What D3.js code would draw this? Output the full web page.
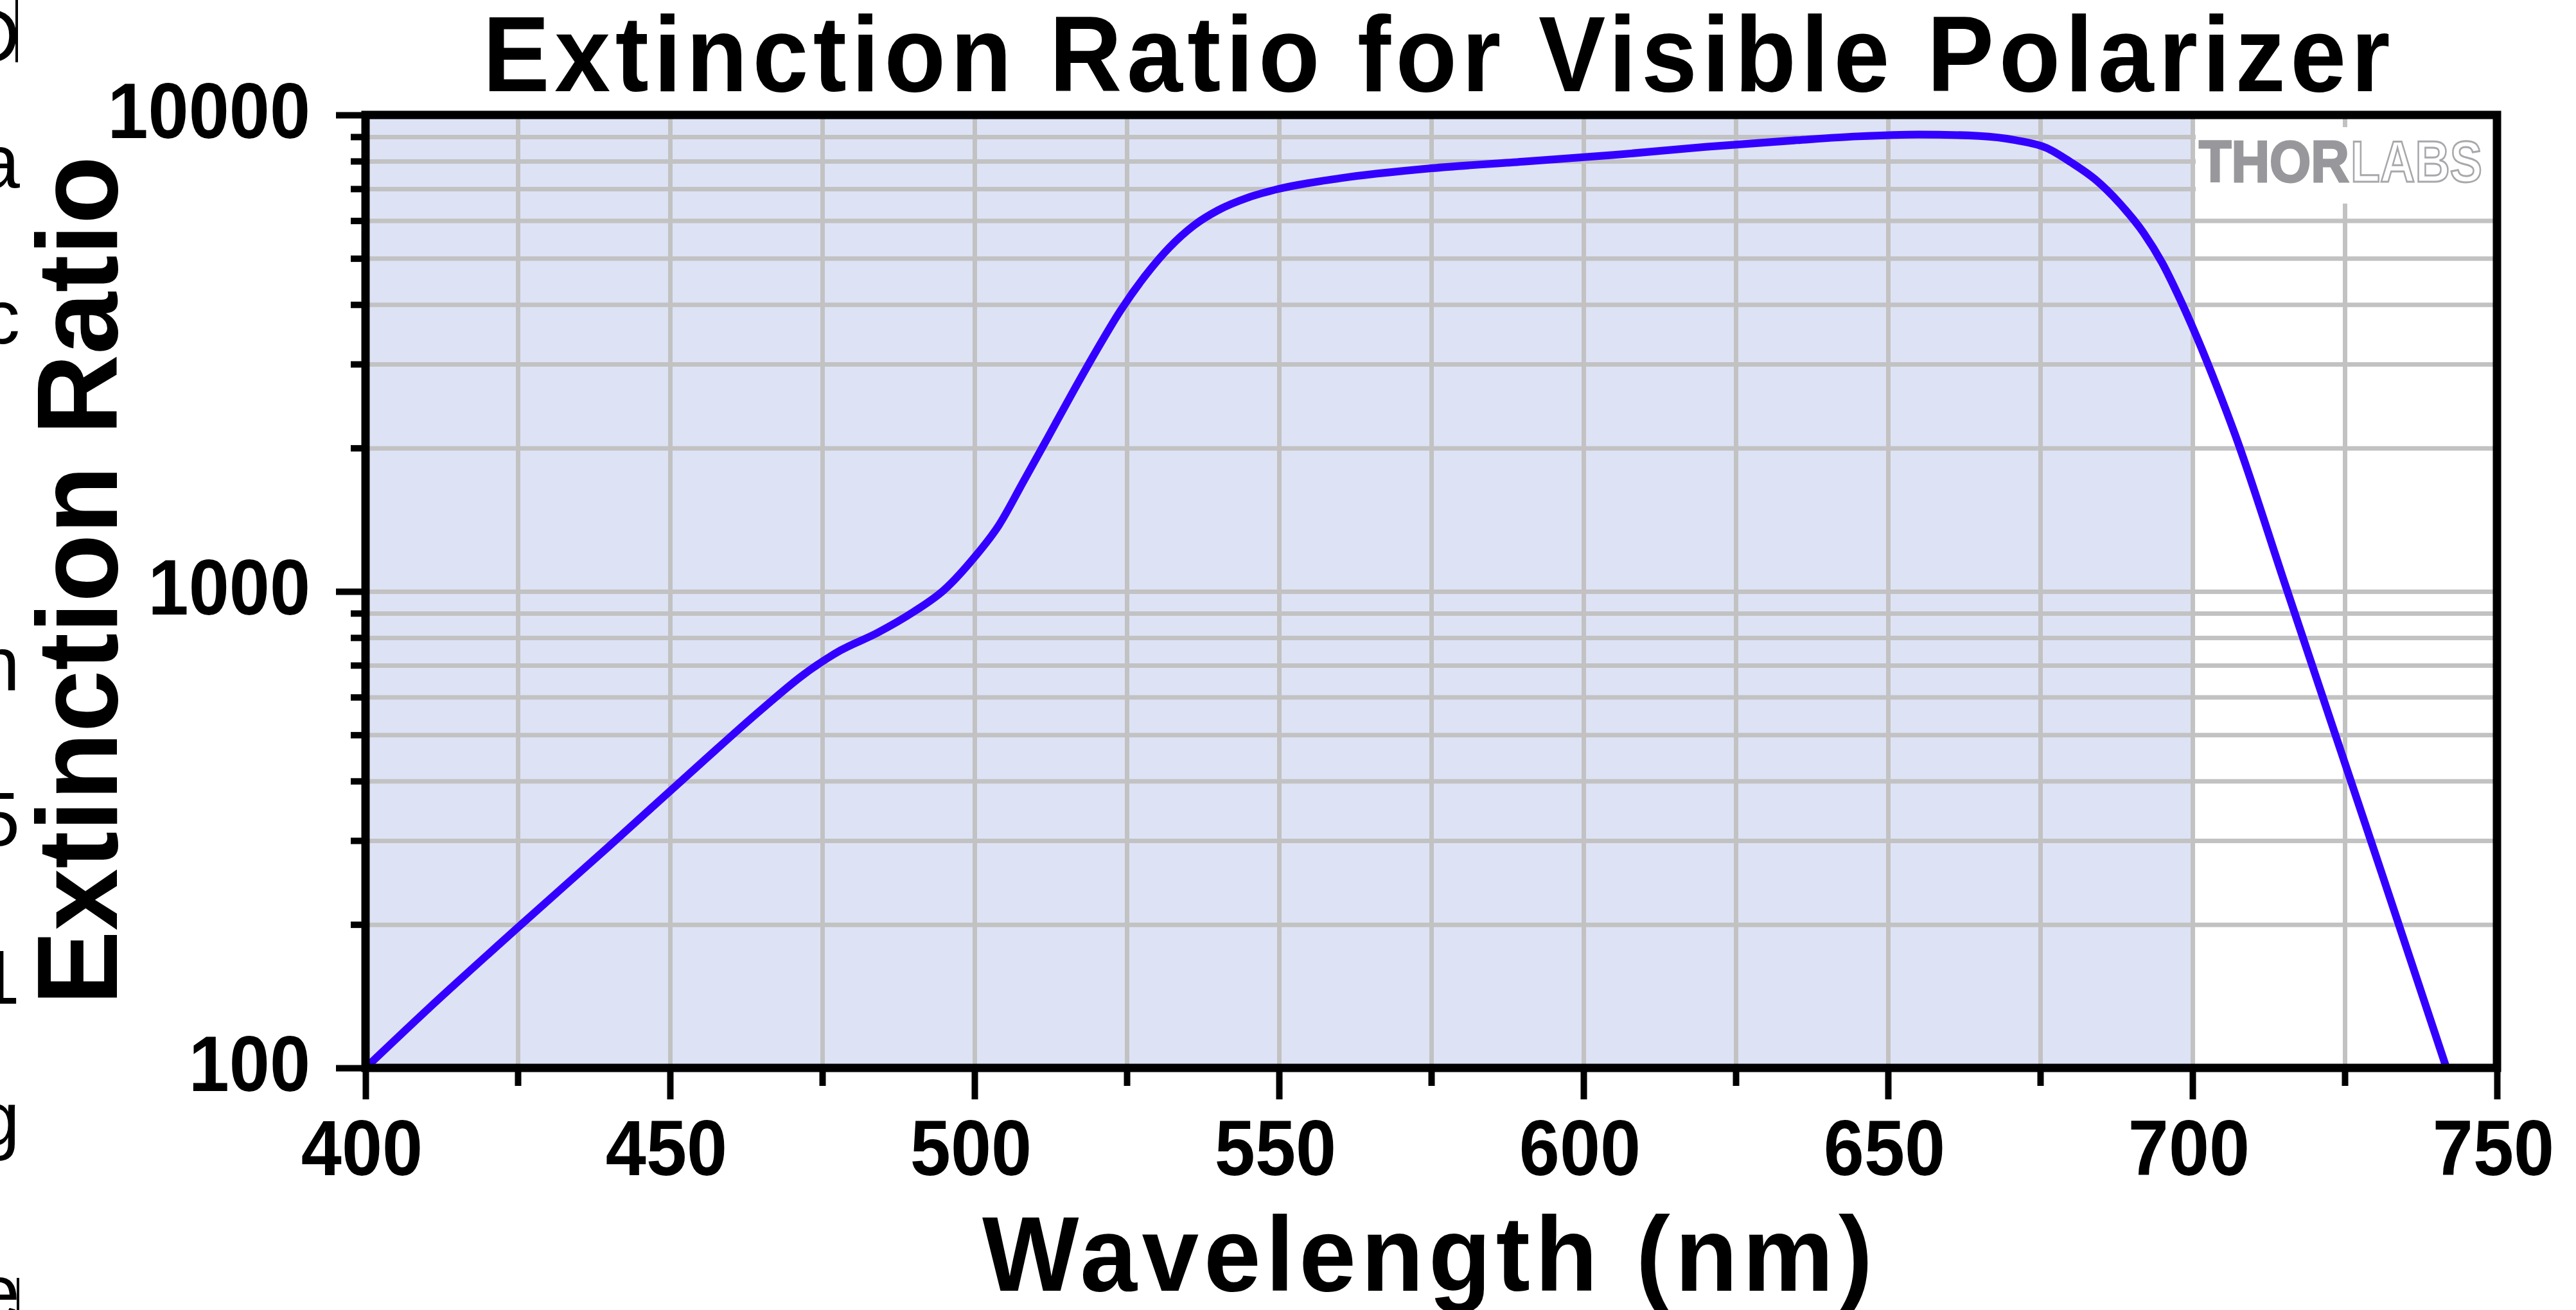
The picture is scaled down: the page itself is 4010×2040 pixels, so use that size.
<!DOCTYPE html>
<html>
<head>
<meta charset="utf-8">
<script src="https://cdn.jsdelivr.net/npm/d3@7"></script>
<style>
  html, body { margin: 0; padding: 0; background: #ffffff; }
  svg { display: block; }
  text { font-family: "Liberation Sans", Arial, Helvetica, sans-serif; }
</style>
</head>
<body>
<svg id="chart" width="4010" height="2040"></svg>
<script>
// ---- data: measured extinction ratio of the visible polarizer ----
const wavelengths = [400, 410, 425, 440, 455, 465, 472, 478, 484, 490,
  495, 500, 504, 508, 512, 516, 520, 524, 528, 532,
  536, 540, 545, 550, 560, 575, 590, 605, 620, 635,
  645, 655, 665, 671, 676, 680, 684, 688, 692, 695,
  698, 701, 704, 707, 715, 723, 731, 741.7];
const extinction = [100, 132, 197, 292, 435, 565, 670, 752, 818, 906,
  1007, 1180, 1377, 1698, 2099, 2600, 3199, 3890, 4592, 5272,
  5861, 6310, 6714, 6998, 7362, 7727, 7980, 8241, 8570, 8851,
  9016, 9099, 9036, 8851, 8531, 7962, 7328, 6531, 5649, 4898,
  4093, 3350, 2692, 2133, 1054, 521, 258, 100];

// ---- axes ticks and labels ----
const xDomain = [400, 750];
const yDomain = [100, 10000];
const xMajorTicks = [400, 450, 500, 550, 600, 650, 700, 750];
const xMinorTicks = [425, 475, 525, 575, 625, 675, 725];
const yMajorTicks = [100, 1000, 10000];
const yMinorTicks = [200, 300, 400, 500, 600, 700, 800, 900,
  2000, 3000, 4000, 5000, 6000, 7000, 8000, 9000];
const shadedBand = [400, 700];   // design wavelength range

const titleText = "Extinction Ratio for Visible Polarizer";
const xTitleText = "Wavelength (nm)";
const yTitleText = "Extinction Ratio";
const logoParts = ["THOR", "LABS"];

// page text cut off at the left edge of the screenshot
const edgeFragments = [
  { t: "D", y: 97 }, { t: "a", y: 293 }, { t: "c", y: 535 },
  { t: "n", y: 1075 }, { t: "5", y: 1317 }, { t: "1", y: 1563 },
  { t: "g", y: 1783 }, { t: "e", y: 2053 }
];

// ---- layout ----
const plot = { left: 569, right: 3887, top: 179, bottom: 1663 };
const plotW = plot.right - plot.left;
const plotH = plot.bottom - plot.top;
const COLORS = {
  band: "#dde3f5", grid: "#c2c2c2", line: "#3300ff", axis: "#000000", logo: "#98989c"
};

const svg = d3.select("#chart");

const x = d3.scaleLinear().domain(xDomain).range([plot.left, plot.right]);
const y = d3.scaleLog().domain(yDomain).range([plot.bottom, plot.top]);

// shaded wavelength band
svg.append("rect")
  .attr("x", x(shadedBand[0]))
  .attr("y", plot.top)
  .attr("width", x(shadedBand[1]) - x(shadedBand[0]))
  .attr("height", plotH)
  .attr("fill", COLORS.band);

// grid lines
const gridX = xMajorTicks.concat(xMinorTicks).filter(v => v > xDomain[0] && v < xDomain[1]);
const gridY = yMinorTicks.concat([1000]);

const gx = svg.append("g")
  .attr("transform", `translate(0,${plot.bottom})`)
  .call(d3.axisBottom(x).tickValues(gridX).tickSize(-plotH).tickFormat(""));
gx.select(".domain").remove();
gx.selectAll(".tick line").attr("stroke", COLORS.grid).attr("stroke-width", 7);

const gy = svg.append("g")
  .attr("transform", `translate(${plot.left},0)`)
  .call(d3.axisLeft(y).tickValues(gridY).tickSize(-plotW).tickFormat(""));
gy.select(".domain").remove();
gy.selectAll(".tick line").attr("stroke", COLORS.grid).attr("stroke-width", 7);

// logo panel (white backing hides the grid behind it)
const logoX = x(shadedBand[1]) + 5;
svg.append("rect")
  .attr("x", logoX)
  .attr("y", 198)
  .attr("width", plot.right - 6 - logoX)
  .attr("height", 119)
  .attr("fill", "#ffffff");
svg.append("text")
  .attr("x", 3423)
  .attr("y", 283)
  .attr("font-size", 90)
  .attr("font-weight", 700)
  .attr("fill", COLORS.logo)
  .attr("stroke", COLORS.logo)
  .attr("stroke-width", 3)
  .attr("textLength", 234)
  .attr("lengthAdjust", "spacingAndGlyphs")
  .text(logoParts[0]);
svg.append("text")
  .attr("x", 3659)
  .attr("y", 283)
  .attr("font-size", 90)
  .attr("font-weight", 700)
  .attr("fill", "#ffffff")
  .attr("stroke", "#a8a8ac")
  .attr("stroke-width", 3)
  .attr("textLength", 205)
  .attr("lengthAdjust", "spacingAndGlyphs")
  .text(logoParts[1]);

// extinction curve
const series = wavelengths.map((w, i) => ({ w, v: extinction[i] }));
const line = d3.line()
  .x(d => x(d.w))
  .y(d => y(d.v))
  .curve(d3.curveMonotoneX);
svg.append("path")
  .datum(series)
  .attr("d", line)
  .attr("fill", "none")
  .attr("stroke", COLORS.line)
  .attr("stroke-width", 12)
  .attr("stroke-linejoin", "round")
  .attr("stroke-linecap", "round");

// frame
svg.append("rect")
  .attr("x", plot.left)
  .attr("y", plot.top)
  .attr("width", plotW)
  .attr("height", plotH)
  .attr("fill", "none")
  .attr("stroke", COLORS.axis)
  .attr("stroke-width", 13);

// axes: minor ticks
function styleTicks(g) {
  g.select(".domain").remove();
  g.selectAll(".tick line").attr("stroke", COLORS.axis).attr("stroke-width", 10);
}
svg.append("g")
  .attr("transform", `translate(0,${plot.bottom})`)
  .call(d3.axisBottom(x).tickValues(xMinorTicks).tickSize(28).tickFormat(""))
  .call(styleTicks);
svg.append("g")
  .attr("transform", `translate(${plot.left},0)`)
  .call(d3.axisLeft(y).tickValues(yMinorTicks).tickSize(23).tickFormat(""))
  .call(styleTicks);

// axes: major ticks with labels
const fmt = d3.format("d");
const xAxisG = svg.append("g")
  .attr("transform", `translate(0,${plot.bottom})`)
  .call(d3.axisBottom(x).tickValues(xMajorTicks).tickSize(49).tickPadding(31).tickFormat(fmt))
  .call(styleTicks);
const yAxisG = svg.append("g")
  .attr("transform", `translate(${plot.left},0)`)
  .call(d3.axisLeft(y).tickValues(yMajorTicks).tickSize(46).tickPadding(40).tickFormat(fmt))
  .call(styleTicks);

[xAxisG, yAxisG].forEach(g => {
  g.attr("font-family", null).attr("font-size", null);
  g.selectAll(".tick text")
    .attr("font-size", 122)
    .attr("font-weight", 700)
    .attr("fill", COLORS.axis);
});
xAxisG.selectAll(".tick text").attr("dx", -6);
yAxisG.selectAll(".tick text").attr("dy", "0.29em");
// slightly narrow digits
svg.selectAll(".tick text").each(function () {
  const len = this.getComputedTextLength();
  if (len > 0) d3.select(this).attr("textLength", len * 0.93).attr("lengthAdjust", "spacingAndGlyphs");
});

// titles: narrow glyphs with open letter spacing
function spacedTitle(text, cx, baseline, size, width, squeeze) {
  return svg.append("text")
    .attr("transform", `translate(${cx},${baseline}) scale(${squeeze},1)`)
    .attr("text-anchor", "middle")
    .attr("font-size", size)
    .attr("font-weight", 700)
    .attr("textLength", width / squeeze)
    .attr("lengthAdjust", "spacing")
    .text(text);
}
spacedTitle(titleText, 2236, 142, 168, 2969, 0.93);
spacedTitle(xTitleText, 2222, 2010, 166, 1386, 0.96);

svg.append("text")
  .attr("transform", `translate(182,904) rotate(-90)`)
  .attr("text-anchor", "middle")
  .attr("font-size", 178)
  .attr("font-weight", 700)
  .attr("textLength", 1322)
  .attr("lengthAdjust", "spacingAndGlyphs")
  .text(yTitleText);

// clipped page text along the left edge
svg.append("g").selectAll("text")
  .data(edgeFragments)
  .join("text")
  .attr("x", 31)
  .attr("y", d => d.y)
  .attr("text-anchor", "end")
  .attr("font-size", 118)
  .attr("fill", "#000")
  .text(d => d.t);
svg.append("rect").attr("x", 24).attr("y", 0).attr("width", 4).attr("height", 97).attr("fill", "#000");
svg.append("rect").attr("x", 26).attr("y", 1990).attr("width", 4).attr("height", 50).attr("fill", "#000");
</script>
</body>
</html>
